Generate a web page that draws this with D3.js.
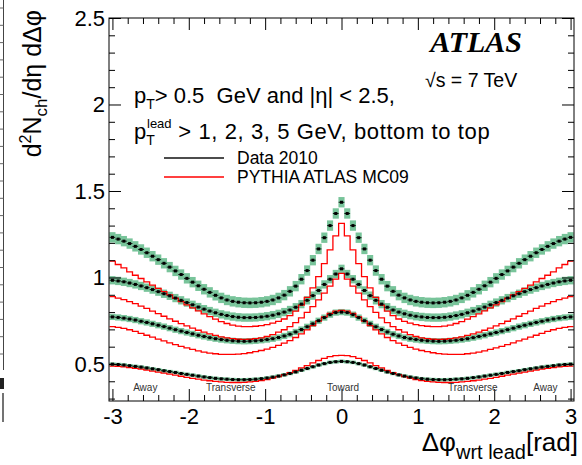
<!DOCTYPE html>
<html><head><meta charset="utf-8">
<script src="https://cdn.jsdelivr.net/npm/d3@7"></script>
<style>
body{margin:0;background:#fff;}
svg{display:block;font-family:"Liberation Sans",Arial,Helvetica,sans-serif;}
</style></head><body>
<svg id="c" width="582" height="465"></svg>
<script>
// ---- data ----
const binCenters = [-3.0,-2.925,-2.85,-2.775,-2.7,-2.625,-2.55,-2.475,-2.4,-2.325,-2.25,-2.175,-2.1,-2.025,-1.95,-1.875,-1.8,-1.725,-1.65,-1.575,-1.5,-1.425,-1.35,-1.275,-1.2,-1.125,-1.05,-0.975,-0.9,-0.825,-0.75,-0.675,-0.6,-0.525,-0.45,-0.375,-0.3,-0.225,-0.15,-0.075,0,0.075,0.15,0.225,0.3,0.375,0.45,0.525,0.6,0.675,0.75,0.825,0.9,0.975,1.05,1.125,1.2,1.275,1.35,1.425,1.5,1.575,1.65,1.725,1.8,1.875,1.95,2.025,2.1,2.175,2.25,2.325,2.4,2.475,2.55,2.625,2.7,2.775,2.85,2.925,3.0];
const binWidth = 0.075;

const dataPt5 = [1.232,1.222,1.21,1.196,1.18,1.162,1.143,1.123,1.103,1.082,1.06,1.038,1.017,0.995,0.973,0.952,0.932,0.914,0.897,0.882,0.87,0.862,0.857,0.854,0.853,0.854,0.857,0.862,0.870,0.882,0.898,0.92,0.95,0.99,1.04,1.10,1.165,1.23,1.30,1.37,1.435,1.37,1.30,1.23,1.165,1.10,1.04,0.99,0.95,0.92,0.898,0.882,0.870,0.862,0.857,0.854,0.853,0.854,0.857,0.862,0.87,0.882,0.897,0.914,0.932,0.952,0.973,0.995,1.017,1.038,1.06,1.082,1.103,1.123,1.143,1.162,1.18,1.196,1.21,1.222,1.232];
const dataPt3 = [0.984,0.98,0.975,0.968,0.96,0.951,0.941,0.93,0.918,0.906,0.894,0.881,0.868,0.855,0.842,0.829,0.817,0.806,0.796,0.787,0.78,0.774,0.77,0.768,0.768,0.769,0.772,0.776,0.782,0.79,0.80,0.812,0.828,0.846,0.868,0.895,0.925,0.96,0.99,1.02,1.05,1.02,0.99,0.96,0.925,0.895,0.868,0.846,0.828,0.812,0.80,0.79,0.782,0.776,0.772,0.769,0.768,0.768,0.77,0.774,0.78,0.787,0.796,0.806,0.817,0.829,0.842,0.855,0.868,0.881,0.894,0.906,0.918,0.93,0.941,0.951,0.96,0.968,0.975,0.98,0.984];
const dataPt2 = [0.772,0.769,0.765,0.76,0.754,0.747,0.74,0.732,0.724,0.716,0.707,0.698,0.69,0.682,0.674,0.666,0.659,0.652,0.646,0.641,0.637,0.634,0.632,0.631,0.632,0.634,0.637,0.641,0.646,0.653,0.662,0.672,0.685,0.699,0.715,0.732,0.75,0.768,0.785,0.797,0.80,0.797,0.785,0.768,0.75,0.732,0.715,0.699,0.685,0.672,0.662,0.653,0.646,0.641,0.637,0.634,0.632,0.631,0.632,0.634,0.637,0.641,0.646,0.652,0.659,0.666,0.674,0.682,0.69,0.698,0.707,0.716,0.724,0.732,0.74,0.747,0.754,0.76,0.765,0.769,0.772];
const dataPt1 = [0.499,0.497,0.494,0.49,0.486,0.482,0.477,0.472,0.467,0.461,0.456,0.451,0.445,0.44,0.435,0.43,0.425,0.421,0.417,0.414,0.412,0.41,0.409,0.409,0.41,0.412,0.415,0.419,0.424,0.43,0.437,0.445,0.454,0.464,0.474,0.484,0.494,0.502,0.509,0.513,0.515,0.513,0.509,0.502,0.494,0.484,0.474,0.464,0.454,0.445,0.437,0.43,0.424,0.419,0.415,0.412,0.41,0.409,0.409,0.41,0.412,0.414,0.417,0.421,0.425,0.43,0.435,0.44,0.445,0.451,0.456,0.461,0.467,0.472,0.477,0.482,0.486,0.49,0.494,0.497,0.499];

const mcPt5 = [1.095,1.075,1.055,1.032,1.013,0.994,0.975,0.956,0.937,0.918,0.899,0.88,0.861,0.842,0.824,0.807,0.79,0.774,0.759,0.745,0.734,0.725,0.719,0.716,0.716,0.718,0.722,0.728,0.736,0.746,0.76,0.78,0.805,0.84,0.885,0.94,1.005,1.08,1.16,1.24,1.313,1.24,1.16,1.08,1.005,0.94,0.885,0.84,0.805,0.78,0.76,0.746,0.736,0.728,0.722,0.718,0.716,0.716,0.719,0.725,0.734,0.745,0.759,0.774,0.79,0.807,0.824,0.842,0.861,0.88,0.899,0.918,0.937,0.956,0.975,0.994,1.013,1.032,1.055,1.075,1.095];
const mcPt3 = [0.889,0.881,0.872,0.861,0.849,0.835,0.821,0.806,0.791,0.776,0.761,0.747,0.733,0.72,0.707,0.695,0.684,0.674,0.665,0.657,0.651,0.646,0.643,0.642,0.643,0.646,0.651,0.659,0.67,0.684,0.698,0.716,0.739,0.766,0.798,0.832,0.87,0.91,0.95,0.99,1.024,0.99,0.95,0.91,0.87,0.832,0.798,0.766,0.739,0.716,0.698,0.684,0.67,0.659,0.651,0.646,0.643,0.642,0.643,0.646,0.651,0.657,0.665,0.674,0.684,0.695,0.707,0.72,0.733,0.747,0.761,0.776,0.791,0.806,0.821,0.835,0.849,0.861,0.872,0.881,0.889];
const mcPt2 = [0.716,0.712,0.706,0.698,0.688,0.677,0.666,0.655,0.644,0.633,0.622,0.612,0.602,0.593,0.584,0.576,0.569,0.563,0.559,0.556,0.555,0.555,0.557,0.56,0.565,0.571,0.578,0.586,0.596,0.607,0.62,0.635,0.653,0.674,0.697,0.722,0.748,0.772,0.792,0.805,0.81,0.805,0.792,0.772,0.748,0.722,0.697,0.674,0.653,0.635,0.62,0.607,0.596,0.586,0.578,0.571,0.565,0.56,0.557,0.555,0.555,0.556,0.559,0.563,0.569,0.576,0.584,0.593,0.602,0.612,0.622,0.633,0.644,0.655,0.666,0.677,0.688,0.698,0.706,0.712,0.716];
const mcPt1 = [0.488,0.486,0.483,0.479,0.475,0.47,0.465,0.459,0.453,0.447,0.441,0.435,0.429,0.423,0.417,0.412,0.407,0.403,0.399,0.396,0.394,0.393,0.393,0.394,0.396,0.399,0.404,0.41,0.418,0.427,0.438,0.45,0.463,0.477,0.491,0.506,0.52,0.532,0.542,0.548,0.55,0.548,0.542,0.532,0.52,0.506,0.491,0.477,0.463,0.45,0.438,0.427,0.418,0.41,0.404,0.399,0.396,0.394,0.393,0.393,0.394,0.396,0.399,0.403,0.407,0.412,0.417,0.423,0.429,0.435,0.441,0.447,0.453,0.459,0.465,0.47,0.475,0.479,0.483,0.486,0.488];

const bandHalfWidth = [0.010, 0.018, 0.024, 0.030]; // pT lead > 1, 2, 3, 5

const xTickValues = [-3,-2,-1,0,1,2,3];
const xTickLabels = ["-3","-2","-1","0","1","2","3"];
const yTickValues = [0.5,1,1.5,2,2.5];
const yTickLabels = ["0.5","1","1.5","2","2.5"];
const regionLabels = ["Away","Transverse","Toward","Transverse","Away"];
const regionPos = [-2.57,-1.45,0.02,1.72,2.67];

// ---- drawing ----
const svg = d3.select("#c");
const X0=109, X1=574, Y0=18, Y1=401;
const x = d3.scaleLinear().domain([-3.045,3.045]).range([X0,X1]);
const y = d3.scaleLinear().domain([0.286,2.5]).range([Y1,Y0]);

// left sliver of the neighbouring panel
const sl = svg.append("g");
sl.append("line").attr("x1",3.5).attr("x2",3.5).attr("y1",0).attr("y2",370).attr("stroke","#444").attr("stroke-width",1);
d3.range(8,370,17.3).forEach(v=>{
  sl.append("line").attr("x1",0).attr("x2",3.5).attr("y1",v).attr("y2",v).attr("stroke","#666").attr("stroke-width",1);
});
sl.append("rect").attr("x",0).attr("y",378).attr("width",4).attr("height",11).attr("fill","#222");
sl.append("line").attr("x1",3).attr("x2",3).attr("y1",393).attr("y2",422).attr("stroke","#444").attr("stroke-width",1.5);

const series = [
  {data:dataPt1, mc:mcPt1, err:bandHalfWidth[0]},
  {data:dataPt2, mc:mcPt2, err:bandHalfWidth[1]},
  {data:dataPt3, mc:mcPt3, err:bandHalfWidth[2]},
  {data:dataPt5, mc:mcPt5, err:bandHalfWidth[3]}
];

svg.append("clipPath").attr("id","clip").append("rect").attr("x",X0).attr("y",Y0).attr("width",X1-X0).attr("height",Y1-Y0);
const plot = svg.append("g").attr("clip-path","url(#clip)");
const bw = x(binWidth/2)-x(-binWidth/2);
// green systematic bands
series.forEach(s=>{
  plot.append("g").selectAll("rect").data(s.data).enter().append("rect")
    .attr("x",(d,i)=>x(binCenters[i])-bw/2-0.2)
    .attr("width",bw+0.4)
    .attr("y",d=>y(d+s.err))
    .attr("height",d=>y(d-s.err)-y(d+s.err))
    .attr("fill","#78c49a");
});
// red MC histograms
const line = d3.line();
series.forEach(s=>{
  const pts=[];
  s.mc.forEach((v,i)=>{pts.push([x(binCenters[i])-bw/2,y(v)]);pts.push([x(binCenters[i])+bw/2,y(v)]);});
  plot.append("path").attr("d",line(pts)).attr("fill","none").attr("stroke","#ff0000").attr("stroke-width",1.3);
});
// black data markers
series.forEach(s=>{
  const g=plot.append("g");
  g.selectAll("line").data(s.data).enter().append("line")
    .attr("x1",(d,i)=>x(binCenters[i])-bw/2).attr("x2",(d,i)=>x(binCenters[i])+bw/2)
    .attr("y1",d=>y(d)).attr("y2",d=>y(d)).attr("stroke","#111").attr("stroke-width",1);
  g.selectAll("rect").data(s.data).enter().append("rect")
    .attr("x",(d,i)=>x(binCenters[i])-1.5).attr("y",d=>y(d)-1.5).attr("width",3).attr("height",3).attr("fill","#000");
});

// axes with inward ticks
function styleAxis(g){g.select(".domain").remove();g.selectAll(".tick line").attr("stroke","#000");}
const xMinor = d3.range(-30,31,2).map(v=>v/10).filter(v=>Math.round(v*10)%10!==0);
const yMinor = d3.range(3,26).map(v=>v/10).filter(v=>Math.round(v*10)%5!==0);
const fontTick = g=>g.selectAll("text").attr("font-size",22).attr("font-family","Liberation Sans, Arial, sans-serif").attr("fill","#000");

svg.append("g").attr("transform",`translate(0,${Y1})`)
  .call(d3.axisBottom(x).tickValues(xTickValues).tickSize(-12).tickPadding(7).tickFormat((d,i)=>xTickLabels[i]))
  .call(styleAxis).call(fontTick);
svg.append("g").attr("transform",`translate(0,${Y1})`)
  .call(d3.axisBottom(x).tickValues(xMinor).tickSize(-6).tickFormat("")).call(styleAxis);
svg.append("g").attr("transform",`translate(0,${Y0})`)
  .call(d3.axisTop(x).tickValues(xTickValues).tickSize(-12).tickFormat("")).call(styleAxis);
svg.append("g").attr("transform",`translate(0,${Y0})`)
  .call(d3.axisTop(x).tickValues(xMinor).tickSize(-6).tickFormat("")).call(styleAxis);

svg.append("g").attr("transform",`translate(${X0},0)`)
  .call(d3.axisLeft(y).tickValues(yTickValues).tickSize(-12).tickPadding(4).tickFormat((d,i)=>yTickLabels[i]))
  .call(styleAxis).call(fontTick);
svg.append("g").attr("transform",`translate(${X0},0)`)
  .call(d3.axisLeft(y).tickValues(yMinor).tickSize(-6).tickFormat("")).call(styleAxis);
svg.append("g").attr("transform",`translate(${X1},0)`)
  .call(d3.axisRight(y).tickValues(yTickValues).tickSize(-12).tickFormat("")).call(styleAxis);
svg.append("g").attr("transform",`translate(${X1},0)`)
  .call(d3.axisRight(y).tickValues(yMinor).tickSize(-6).tickFormat("")).call(styleAxis);

svg.append("rect").attr("x",X0).attr("y",Y0).attr("width",X1-X0).attr("height",Y1-Y0)
  .attr("fill","none").attr("stroke","#000").attr("stroke-width",1);

// region labels
svg.append("g").selectAll("text").data(regionLabels).enter().append("text")
  .attr("x",(d,i)=>x(regionPos[i])).attr("y",391).attr("text-anchor","middle")
  .attr("font-size",10).attr("fill","#333").text(d=>d);

// texts
svg.append("text").attr("x",522).attr("y",52).attr("text-anchor","end")
  .attr("font-family","Liberation Serif, Times New Roman, serif").attr("font-weight","bold").attr("font-style","italic")
  .attr("font-size",30).text("ATLAS");
svg.append("text").attr("x",425).attr("y",87).attr("font-size",19.5).text("\u221As = 7 TeV");

const t1 = svg.append("text").attr("x",134).attr("y",103).attr("font-size",22).style("white-space","pre");
t1.append("tspan").text("p");
t1.append("tspan").attr("dy",6).attr("font-size",14).text("T");
t1.append("tspan").attr("dy",-6).text("> 0.5  GeV and |\u03b7| < 2.5,");

const t2 = svg.append("text").attr("x",134).attr("y",139).attr("font-size",22).style("white-space","pre");
t2.append("tspan").text("p");
t2.append("tspan").attr("dy",6).attr("font-size",14).text("T");
t2.append("tspan").attr("x",147).attr("dy",-17).attr("font-size",13).text("lead");
t2.append("tspan").attr("dy",11).attr("letter-spacing",0.6).text(" > 1, 2, 3, 5 GeV, bottom to top");

// legend
svg.append("line").attr("x1",164).attr("x2",224).attr("y1",158).attr("y2",158).attr("stroke","#111").attr("stroke-width",1.5);
svg.append("line").attr("x1",164).attr("x2",224).attr("y1",177).attr("y2",177).attr("stroke","#ff0000").attr("stroke-width",1.5);
svg.append("text").attr("x",237).attr("y",164).attr("font-size",17.5).text("Data 2010");
svg.append("text").attr("x",237).attr("y",183).attr("font-size",17.5).text("PYTHIA ATLAS MC09");

// axis titles
const yt = svg.append("text").attr("transform","translate(41,10) rotate(-90)").attr("text-anchor","end").attr("font-size",25);
yt.append("tspan").text("d");
yt.append("tspan").attr("dy",-10).attr("font-size",16).text("2");
yt.append("tspan").attr("dy",10).text("N");
yt.append("tspan").attr("dy",6).attr("font-size",17).text("ch");
yt.append("tspan").attr("dy",-6).text("/d\u03b7 d\u0394\u03c6");

const xt = svg.append("text").attr("x",578).attr("y",451).attr("text-anchor","end").attr("font-size",26);
xt.append("tspan").text("\u0394\u03c6");
xt.append("tspan").attr("dy",8).attr("font-size",20).text("wrt lead");
xt.append("tspan").attr("dy",-8).text("[rad]");
</script>
</body></html>
